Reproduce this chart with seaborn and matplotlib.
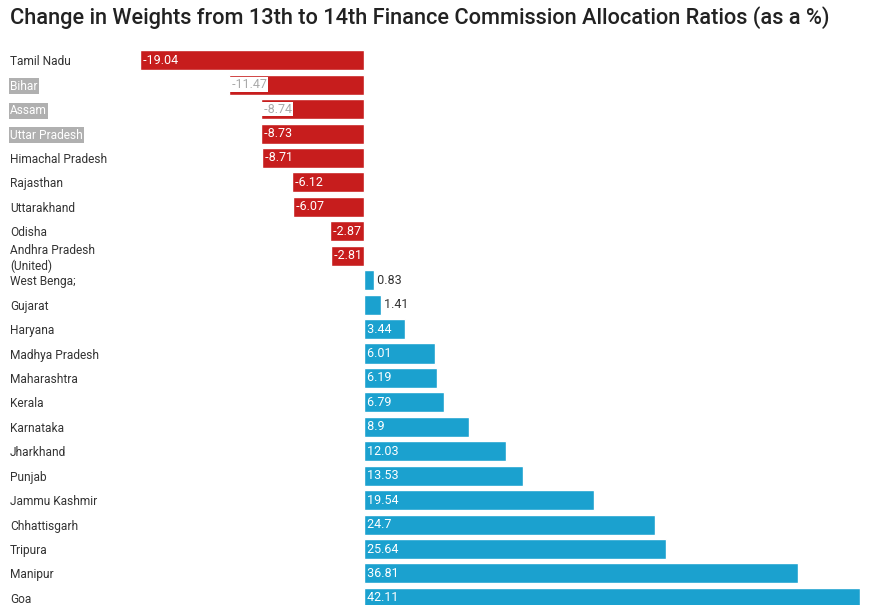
import pandas as pd
import seaborn as sns
import matplotlib.pyplot as plt

# Data
states = ["Tamil Nadu", "Bihar", "Assam", "Uttar Pradesh", "Himachal Pradesh",
          "Rajasthan", "Uttarakhand", "Odisha", "Andhra Pradesh\n(United)",
          "West Benga;", "Gujarat", "Haryana", "Madhya Pradesh", "Maharashtra",
          "Kerala", "Karnataka", "Jharkhand", "Punjab", "Jammu Kashmir",
          "Chhattisgarh", "Tripura", "Manipur", "Goa"]
change = [-19.04, -11.47, -8.74, -8.73, -8.71, -6.12, -6.07, -2.87, -2.81,
          0.83, 1.41, 3.44, 6.01, 6.19, 6.79, 8.9, 12.03, 13.53, 19.54,
          24.7, 25.64, 36.81, 42.11]
highlighted = ["Bihar", "Assam", "Uttar Pradesh"]

df = pd.DataFrame({"state": states, "change": change})
df["sign"] = ["neg" if v < 0 else "pos" for v in df["change"]]

red = "#c71d1d"
blue = "#1ba1cf"

sns.set_style("white")
plt.rcParams["font.family"] = ["Roboto", "DejaVu Sans"]

fig = plt.figure(figsize=(8.7, 6.05), dpi=100)
ax = fig.add_axes([140 / 870, 0, 720 / 870, 1 - 48 / 605])

sns.barplot(data=df, x="change", y="state", hue="sign",
            palette={"neg": red, "pos": blue}, dodge=False, width=0.82,
            saturation=1, legend=False, ax=ax)

ax.set_xlim(min(change), max(change))
ax.set_ylim(len(states) - 1 + 0.29, -0.5)
ax.set_xlabel("")
ax.set_ylabel("")
ax.set_xticks([])
sns.despine(ax=ax, left=True, bottom=True)

# State labels, left aligned at the figure edge
ax.set_yticks(range(len(states)))
ax.set_yticklabels(states, ha="left", fontsize=8.6, color="#333333")
ax.tick_params(axis="y", length=0, pad=93.6)
for lab in ax.get_yticklabels():
    if lab.get_text() in highlighted:
        lab.set_color("white")
        lab.set_bbox(dict(facecolor="#b0b0b0", edgecolor="none", pad=1))

# Value labels
for i, v in enumerate(change):
    txt = f"{v:g}"
    if v < 0:
        if states[i] in ["Bihar", "Assam"]:
            ax.text(v, i, " " + txt, va="center", ha="left", fontsize=9,
                    color="#aaaaaa",
                    bbox=dict(facecolor="white", edgecolor="none", pad=0.5))
        else:
            ax.text(v, i, " " + txt, va="center", ha="left", fontsize=9,
                    color="white")
    elif v < 2:
        ax.text(v, i, " " + txt, va="center", ha="left", fontsize=9,
                color="#333333")
    else:
        ax.text(0, i, " " + txt, va="center", ha="left", fontsize=9,
                color="white")

fig.text(10 / 870, 1 - 18 / 605, "Change in Weights from 13th to 14th Finance "
         "Commission Allocation Ratios (as a %)", ha="left", va="center",
         fontsize=15.7, fontweight="medium", color="#222222")

fig.savefig("out.png", dpi=100)
plt.close()
